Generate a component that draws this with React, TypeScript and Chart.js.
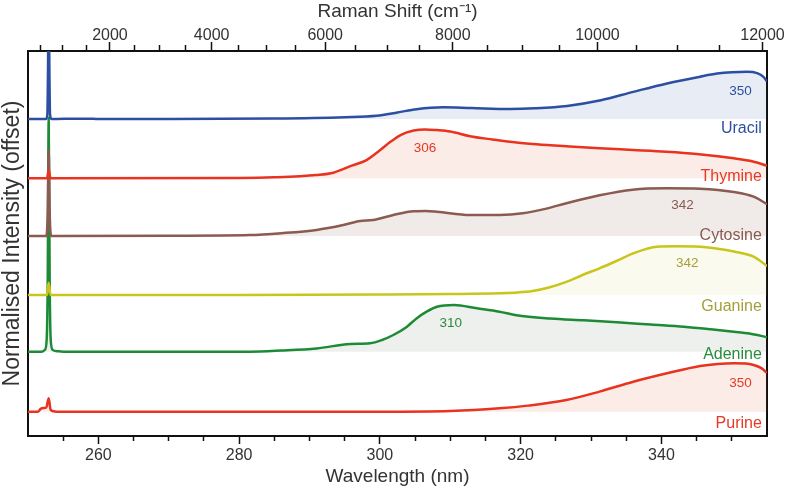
import React, { useEffect, useRef } from 'react';
import { Chart, registerables } from 'chart.js';

Chart.register(...registerables);

// ---------------- data ----------------
const SERIES_NAMES = ['Uracil', 'Thymine', 'Cytosine', 'Guanine', 'Adenine', 'Purine'];
const SERIES_OFFSETS = [6.254, 4.987, 3.754, 2.494, 1.282, 0];
const PEAK_LABELS = ['350', '306', '342', '342', '310', '350'];
const PEAK_LABEL_NM = [351.25, 306.4, 343.0, 343.66, 310.05, 351.25];
const PEAK_LABEL_Y = [6.767, 5.549, 4.325, 3.098, 1.803, 0.534];
const NAME_LABEL_NM = 354.27;
const NAME_LABEL_Y = [5.949, 4.936, 3.669, 2.152, 1.12, -0.355];

const URACIL_NM = [250, 252.55, 252.75, 252.85, 252.94, 253.03, 253.13, 253.35, 257, 258.5, 260, 270, 285, 295, 299.5, 302.5, 305.2, 309, 313, 318.5, 322, 326.6, 331.4, 336, 340.8, 345.5, 347.9, 350, 352.2, 353.6, 354.5, 355];
const URACIL_I = [0, 0, 0.1, 1.2, 3.0, 1.2, 0.1, 0, 0.008, 0.008, 0, 0, 0.01, 0.04, 0.07, 0.14, 0.21, 0.25, 0.235, 0.215, 0.23, 0.28, 0.4, 0.58, 0.76, 0.905, 0.97, 1.0, 1.01, 0.98, 0.9, 0.8];

const THYMINE_NM = [250, 252.7, 252.94, 253.2, 280, 285, 291, 293.4, 296, 298.1, 300, 301.5, 303, 304.8, 306.4, 308.1, 310, 312.8, 316, 318.5, 321.7, 326, 331.2, 336, 340.7, 345, 350.3, 353, 355];
const THYMINE_I = [0, 0, 0.18, 0, 0.006, 0.02, 0.07, 0.12, 0.27, 0.39, 0.6, 0.78, 0.93, 1.02, 1.045, 1.03, 1.0, 0.9, 0.83, 0.78, 0.733, 0.69, 0.641, 0.605, 0.568, 0.52, 0.427, 0.36, 0.27];

const CYTOSINE_NM = [250, 252.6, 252.8, 252.94, 253.08, 253.3, 270, 281.5, 286, 291, 294.8, 297.2, 299, 301.9, 304.8, 306.5, 308.1, 312.8, 317, 320.3, 323.5, 326.5, 331.2, 335.9, 340.7, 345.5, 350.3, 353.1, 355];
const CYTOSINE_I = [0, 0, 0.5, 1.84, 0.5, 0, 0.005, 0.02, 0.06, 0.13, 0.235, 0.32, 0.34, 0.45, 0.53, 0.535, 0.52, 0.45, 0.45, 0.485, 0.58, 0.7, 0.87, 0.99, 1.02, 1.01, 0.94, 0.84, 0.68];

const GUANINE_NM = [250, 252.7, 252.94, 253.2, 280, 300, 310, 317, 319, 321.7, 324, 326.5, 328.8, 331.2, 333.6, 336, 339.4, 342, 345.5, 348, 350.3, 353.1, 355];
const GUANINE_I = [0, 0, 0.26, 0, 0, 0.01, 0.02, 0.036, 0.05, 0.085, 0.16, 0.28, 0.427, 0.57, 0.726, 0.89, 1.03, 1.04, 1.03, 0.99, 0.93, 0.82, 0.62];

const ADENINE_NM = [250, 251.9, 252.4, 252.65, 252.8, 252.94, 253.08, 253.23, 253.5, 254.2, 255, 270, 281.5, 286, 291, 295.8, 298.6, 300.3, 301.9, 303.8, 305.2, 306.7, 308.1, 310.5, 313.8, 317, 319.4, 324.2, 329, 333.7, 338.5, 343.2, 347, 350.3, 352.5, 355];
const ADENINE_I = [0, 0, 0.04, 0.25, 1.5, 5.0, 1.5, 0.25, 0.04, 0.01, 0, 0, 0, 0.025, 0.07, 0.165, 0.18, 0.25, 0.357, 0.53, 0.71, 0.86, 0.96, 0.998, 0.927, 0.855, 0.78, 0.71, 0.67, 0.628, 0.58, 0.534, 0.48, 0.427, 0.39, 0.31];

const PURINE_NM = [250, 251.4, 251.8, 252.2, 252.6, 252.94, 253.2, 253.6, 254, 280, 300, 310, 317, 321, 326.5, 331.2, 336, 340.8, 345.5, 348, 350.3, 352, 353.1, 354.2, 355];
const PURINE_I = [0, 0, 0.06, 0.08, 0.09, 0.29, 0.05, 0.01, 0, 0, 0, 0.015, 0.073, 0.13, 0.25, 0.43, 0.64, 0.82, 0.977, 1.02, 1.034, 1.03, 0.998, 0.93, 0.83];

const SERIES_NM = [URACIL_NM, THYMINE_NM, CYTOSINE_NM, GUANINE_NM, ADENINE_NM, PURINE_NM];
const SERIES_I = [URACIL_I, THYMINE_I, CYTOSINE_I, GUANINE_I, ADENINE_I, PURINE_I];

const WAVELENGTH_TICKS = [255, 260, 265, 270, 275, 280, 285, 290, 295, 300, 305, 310, 315, 320, 325, 330, 335, 340, 345, 350];
const WAVELENGTH_LABELED = [260, 280, 300, 320, 340];
const RAMAN_TICKS = [500, 1000, 1500, 2000, 2500, 3000, 3500, 4000, 4500, 5000, 5500, 6000, 6500, 7000, 7500, 8000, 8500, 9000, 9500, 10000, 10500, 11000, 11500, 12000];
const RAMAN_LABELED = [2000, 4000, 6000, 8000, 10000, 12000];
const LASER_WAVENUMBER = 40220; // cm^-1 (excitation ~248.6 nm)

// ---------------- styles ----------------
const LINE_COLORS = ['#2c4fa3', '#e8331f', '#8b5a50', '#c9c51c', '#1d8b36', '#e8331f'];
const FILL_COLORS = [
  'rgba(44,79,163,0.11)',
  'rgba(232,80,40,0.11)',
  'rgba(139,90,80,0.13)',
  'rgba(190,185,40,0.08)',
  'rgba(80,110,70,0.10)',
  'rgba(232,80,40,0.11)',
];
const TEXT_COLORS = ['#2d4fa0', '#e63a25', '#8a5a50', '#a59f3a', '#2a8b3c', '#e63a25'];
const FONT = "'Liberation Sans', Arial, sans-serif";

const labelsPlugin = {
  id: 'seriesLabels',
  afterDatasetsDraw(chart: any) {
    const { ctx, scales } = chart;
    const x = scales.x;
    const y = scales.y;
    ctx.save();
    for (let i = 0; i < SERIES_NAMES.length; i++) {
      ctx.fillStyle = TEXT_COLORS[i];
      ctx.textBaseline = 'alphabetic';
      ctx.font = `16px ${FONT}`;
      ctx.textAlign = 'right';
      ctx.fillText(SERIES_NAMES[i], x.getPixelForValue(NAME_LABEL_NM), y.getPixelForValue(NAME_LABEL_Y[i]));
      ctx.font = `13.5px ${FONT}`;
      ctx.textAlign = 'center';
      ctx.fillText(PEAK_LABELS[i], x.getPixelForValue(PEAK_LABEL_NM[i]), y.getPixelForValue(PEAK_LABEL_Y[i]));
    }
    ctx.restore();
  },
};

export default function App() {
  const ref = useRef<HTMLCanvasElement>(null);
  useEffect(() => {
    if (!ref.current) return;
    const datasets = SERIES_NAMES.map((name, i) => ({
      label: name,
      data: SERIES_NM[i].map((nm, k) => ({ x: nm, y: SERIES_OFFSETS[i] + SERIES_I[i][k] })),
      borderColor: LINE_COLORS[i],
      backgroundColor: FILL_COLORS[i],
      borderWidth: 2.5,
      pointRadius: 0,
      cubicInterpolationMode: 'monotone' as const,
      fill: { value: SERIES_OFFSETS[i] },
    }));

    const majorBottom = (v: number) => WAVELENGTH_LABELED.includes(v);
    const majorTop = (i: number) => RAMAN_LABELED.includes(RAMAN_TICKS[i]);

    const chart = new Chart(ref.current, {
      type: 'line',
      data: { datasets },
      plugins: [labelsPlugin],
      options: {
        responsive: false,
        animation: false,
        devicePixelRatio: 1,
        layout: { padding: { left: 0, right: 20, top: 0, bottom: 0 } },
        plugins: { legend: { display: false }, tooltip: { enabled: false } },
        scales: {
          x: {
            type: 'linear',
            position: 'bottom',
            min: 250,
            max: 355,
            afterBuildTicks: (scale: any) => {
              scale.ticks = WAVELENGTH_TICKS.map((v) => ({ value: v }));
            },
            afterFit: (scale: any) => {
              scale.height = 55;
            },
            ticks: {
              autoSkip: false,
              maxRotation: 0,
              padding: 2,
              color: '#333',
              font: { family: FONT, size: 16 },
              callback: (v: any) => (majorBottom(Number(v)) ? String(v) : ''),
            },
            grid: {
              drawOnChartArea: false,
              drawTicks: true,
              tickLength: 8,
              tickColor: '#111',
              tickWidth: 1.5,
              tickBorderDash: (ctx: any) => (majorBottom(ctx.tick?.value) ? [] : [4, 20]),
            } as any,
            border: { display: true, color: '#111', width: 2 },
            title: {
              display: true,
              text: 'Wavelength (nm)',
              color: '#333',
              font: { family: FONT, size: 19 },
              padding: { top: 0, bottom: 3 },
            },
          },
          x2: {
            type: 'linear',
            position: 'top',
            min: 250,
            max: 355,
            afterBuildTicks: (scale: any) => {
              scale.ticks = RAMAN_TICKS.map((s) => ({ value: 1e7 / (LASER_WAVENUMBER - s) }));
            },
            afterFit: (scale: any) => {
              scale.height = 51;
            },
            ticks: {
              autoSkip: false,
              maxRotation: 0,
              padding: -3,
              color: '#333',
              font: { family: FONT, size: 16 },
              callback: (_v: any, i: number) => (majorTop(i) ? String(RAMAN_TICKS[i]) : ''),
            },
            grid: {
              drawOnChartArea: false,
              drawTicks: true,
              tickLength: 9,
              tickColor: '#111',
              tickWidth: 1.5,
              tickBorderDash: (ctx: any) => (majorTop(ctx.index) ? [] : [5, 3]),
              tickBorderDashOffset: (ctx: any) => (majorTop(ctx.index) ? 0 : 5),
            } as any,
            border: { display: true, color: '#111', width: 2 },
            title: {
              display: true,
              text: 'Raman Shift (cm⁻¹)',
              color: '#333',
              font: { family: FONT, size: 19 },
              padding: { top: 0, bottom: 0 },
            },
          },
          y: {
            type: 'linear',
            position: 'left',
            min: -0.519,
            max: 7.707,
            afterFit: (scale: any) => {
              scale.width = 28;
            },
            ticks: { display: false },
            grid: { display: false },
            border: { display: true, color: '#111', width: 2 },
            title: {
              display: true,
              text: 'Normalised Intensity (offset)',
              color: '#333',
              font: { family: FONT, size: 23 },
              padding: { top: -1, bottom: 0 },
            },
          },
          y2: {
            type: 'linear',
            position: 'right',
            min: -0.519,
            max: 7.707,
            afterFit: (scale: any) => {
              scale.width = 0;
            },
            ticks: { display: false },
            grid: { display: false },
            border: { display: true, color: '#111', width: 2 },
          },
        },
      } as any,
    });
    return () => chart.destroy();
  }, []);

  return (
    <div style={{ position: 'absolute', left: 0, top: 0, width: 787, height: 491, background: '#fff' }}>
      <canvas ref={ref} width={787} height={491} style={{ display: 'block' }} />
    </div>
  );
}
